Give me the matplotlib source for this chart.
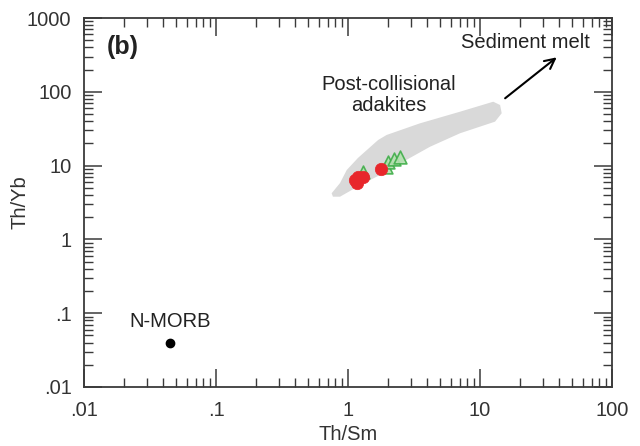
import matplotlib
matplotlib.use('Agg')
import matplotlib.pyplot as plt
from matplotlib.patches import Polygon

plt.rcParams['font.family'] = ['Liberation Sans', 'DejaVu Sans']

# post-collisional adakite field outline (Th/Sm, Th/Yb)
field_x = [0.752, 0.87, 0.978, 1.19, 1.69, 1.96, 3.51, 7.05, 12.6, 14.2, 14.6, 13.0,
           7.05, 4.18, 2.62, 1.96, 1.31, 0.87, 0.769]
field_y = [4.22, 5.8, 8.71, 12.7, 22.2, 26.0, 37.4, 53.7, 73.4, 66.2, 51.2, 39.4,
           27.4, 18.0, 11.3, 8.26, 5.75, 3.79, 3.79]

# samples
tri_x = [1.30, 1.94, 2.01, 2.23, 2.48]
tri_y = [8.2, 9.5, 11.2, 12.3, 13.2]
circ_x = [1.13, 1.16, 1.20, 1.29, 1.78]
circ_y = [6.4, 5.8, 7.1, 7.1, 8.9]

nmorb_x, nmorb_y = 0.0449, 0.039

arrow_start = (15.5, 81.7)
arrow_end = (38.1, 293)

xticks = [0.01, 0.1, 1, 10, 100]
xticklabels = ['.01', '.1', '1', '10', '100']
yticks = [0.01, 0.1, 1, 10, 100, 1000]
yticklabels = ['.01', '.1', '1', '10', '100', '1000']

dark = '#3a3a3a'

fig = plt.figure(figsize=(6.4, 4.46), dpi=100)
ax = fig.add_axes([84 / 640, 59 / 446, 528 / 640, 369 / 446])
ax.set_xscale('log')
ax.set_yscale('log')
ax.set_xlim(0.01, 100)
ax.set_ylim(0.01, 1000)

ax.add_patch(Polygon(list(zip(field_x, field_y)), closed=True,
                     facecolor='#d9d9d9', edgecolor='none', zorder=1))

ax.scatter(tri_x, tri_y, marker='^', s=85, facecolor='#b5e0b0',
           edgecolor='#3fae49', linewidth=1.2, alpha=0.9, zorder=3)
ax.scatter(circ_x, circ_y, marker='o', s=80, facecolor='#e8262b',
           edgecolor='#e8262b', linewidth=0.5, zorder=4)
ax.plot([nmorb_x], [nmorb_y], 'o', color='black', ms=6, zorder=4)

ax.annotate('', xy=arrow_end, xytext=arrow_start,
            arrowprops=dict(arrowstyle='->', color='black', lw=1.5,
                            mutation_scale=18, shrinkA=0, shrinkB=0))

ax.text(21.9, 463, 'Sediment melt', fontsize=14.5, color='#222222',
        ha='center', va='center')
ax.text(2.05, 90.6, 'Post-collisional\nadakites', fontsize=14.5,
        color='#222222', ha='center', va='center', linespacing=1.1)
ax.text(0.0149, 405, '(b)', fontsize=18, fontweight='bold',
        color='#222222', ha='left', va='center')
ax.text(nmorb_x, 0.058, 'N-MORB', fontsize=14.5, color='#222222',
        ha='center', va='bottom')

ax.set_xticks(xticks)
ax.set_xticklabels(xticklabels)
ax.set_yticks(yticks)
ax.set_yticklabels(yticklabels)
ax.tick_params(which='both', direction='in', top=True, right=True,
               color=dark, labelcolor='#333333', labelsize=14.5)
ax.tick_params(which='major', length=13, width=1.1, pad=9)
ax.tick_params(axis='x', which='major', pad=10)
ax.tick_params(which='minor', length=6.5, width=1.0)
for s in ax.spines.values():
    s.set_color(dark)
    s.set_linewidth(1.3)

ax.set_xlabel('Th/Sm', fontsize=14.5, color='#333333', labelpad=4)
ax.set_ylabel('Th/Yb', fontsize=14.5, color='#333333', labelpad=-2)

fig.savefig('out.png', dpi=100)
